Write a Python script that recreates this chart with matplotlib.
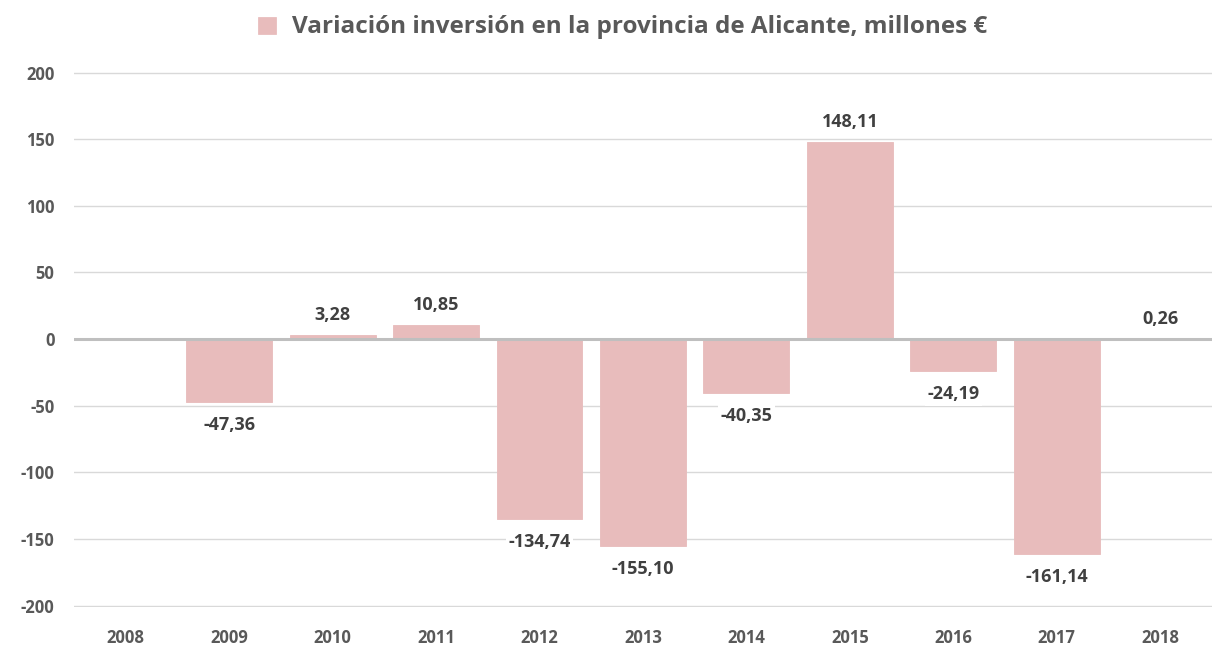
import matplotlib.pyplot as plt
from matplotlib.patches import Rectangle

# Data
years = ['2008', '2009', '2010', '2011', '2012', '2013', '2014', '2015', '2016', '2017', '2018']
values = [0, -47.36, 3.28, 10.85, -134.74, -155.10, -40.35, 148.11, -24.19, -161.14, 0.26]
labels = ['', '-47,36', '3,28', '10,85', '-134,74', '-155,10', '-40,35', '148,11', '-24,19', '-161,14', '0,26']
yticks = [-200, -150, -100, -50, 0, 50, 100, 150, 200]

plt.rcParams['font.family'] = ['Open Sans', 'DejaVu Sans']
plt.rcParams['hatch.color'] = '#e2a4a4'
plt.rcParams['hatch.linewidth'] = 0.9

text_col = '#595959'
bar_col = '#f5e0e0'

fig = plt.figure(figsize=(12.12, 6.47), dpi=100)
ax = fig.add_axes([0.061, 0.0618, 0.939, 0.8282])

x = range(len(years))
bars = ax.bar(x, values, width=0.83, color=bar_col, edgecolor='#e8bcbc',
              linewidth=0.6, hatch='-' * 33, zorder=2)

ax.set_xlim(-0.5, len(years) - 0.5)
ax.set_ylim(-201, 201)
ax.set_yticks(yticks)
ax.set_yticklabels([str(t) for t in yticks])
ax.set_xticks(list(x))
ax.set_xticklabels(years)

for side in ['top', 'right', 'left', 'bottom']:
    ax.spines[side].set_visible(False)
ax.tick_params(length=0, labelsize=12, labelcolor=text_col)
ax.tick_params(axis='y', pad=14)
ax.tick_params(axis='x', pad=16)
for lab in ax.get_xticklabels() + ax.get_yticklabels():
    lab.set_fontweight('bold')
ax.yaxis.grid(True, color='#d9d9d9', linewidth=1, zorder=0)
ax.axhline(0, color='#bfbfbf', linewidth=2.2, zorder=3)

# Data labels
for i, (v, lab) in enumerate(zip(values, labels)):
    if not lab:
        continue
    if v >= 0:
        ax.annotate(lab, (i, v), xytext=(0, 8), textcoords='offset points',
                    ha='center', va='bottom', fontsize=13, fontweight='bold',
                    color='#404040', zorder=4,
                    bbox=dict(boxstyle='square,pad=0.15', fc='white', ec='none'))
    else:
        ax.annotate(lab, (i, v), xytext=(0, -10), textcoords='offset points',
                    ha='center', va='top', fontsize=13, fontweight='bold',
                    color='#404040', zorder=4,
                    bbox=dict(boxstyle='square,pad=0.15', fc='white', ec='none'))

# Title as legend-style entry
fig.text(0.528, 0.958, 'Variación inversión en la provincia de Alicante, millones €',
         ha='center', va='center', fontsize=17.5, fontweight='bold', color=text_col)
fig.patches.append(Rectangle((0.213, 0.947), 0.0145, 0.026, transform=fig.transFigure,
                             facecolor=bar_col, edgecolor='#e8bcbc', hatch='-' * 33,
                             linewidth=0.5))

plt.savefig('out.png', dpi=100)
